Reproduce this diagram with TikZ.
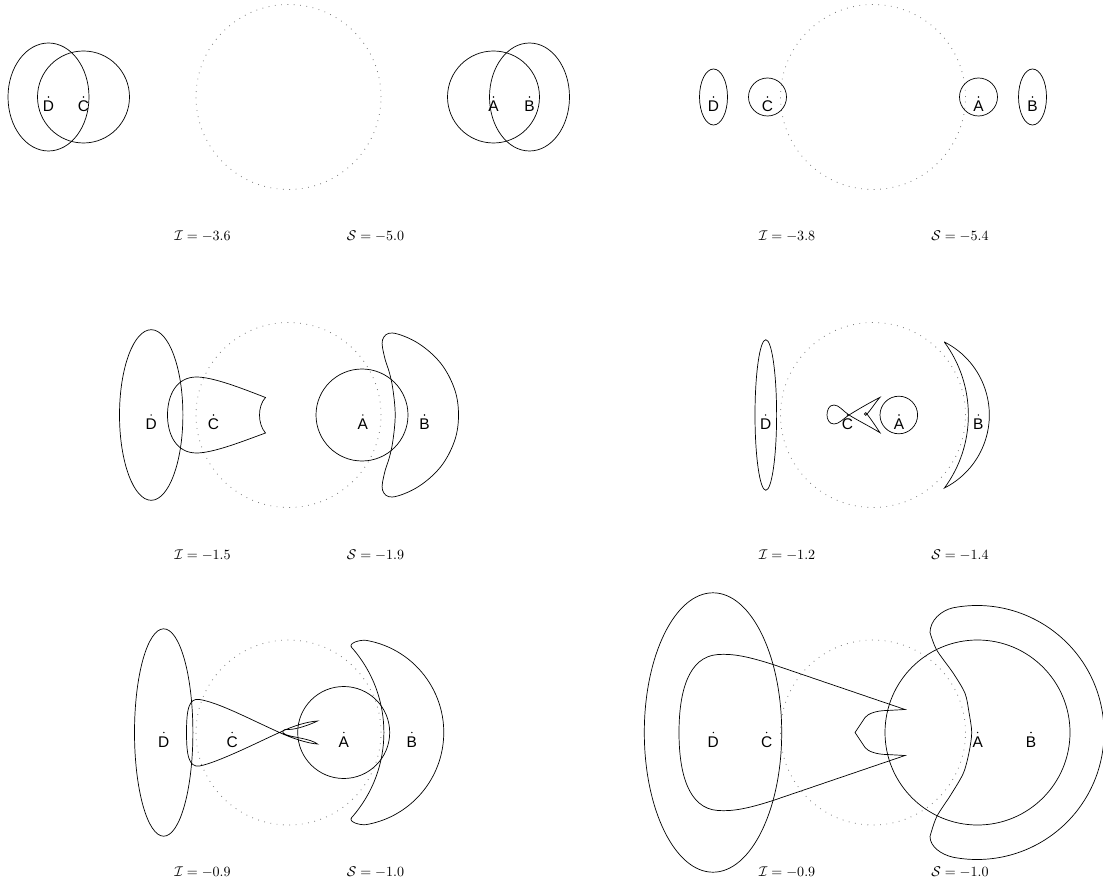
\documentclass[tikz,border=0pt]{standalone}
\usepackage{fontspec}
\setsansfont{Liberation Sans}
\usetikzlibrary{positioning}

\begin{document}
\begin{tikzpicture}[
    x=0.025cm, y=0.025cm,
    every node/.style={font=\rmfamily\small},
    % 虚线球面
    sphere/.style={gray, line width=0.6pt, dash pattern=on 0.6pt off 3.9pt},
    % 实线曲线
    curve/.style={black, line width=0.5pt},
    % 点
    dot/.style={circle, fill=black, inner sep=0pt, minimum size=1.1pt},
    % 点名
    pt/.style={font=\sffamily\fontsize{11}{13}\selectfont, inner sep=0pt},
    % 数值标注
    val/.style={anchor=base, inner sep=0pt, font=\rmfamily\fontsize{10}{12}\selectfont},
]

\useasboundingbox (0,0) rectangle (1103,884);

%% ── 版面参数 ─────────────────────────────────────────
\def\lx{288.5}  % 左列中心 x
\def\rx{873}    % 右列中心 x
\def\ya{787}    % 第一行中心 y
\def\yb{469}    % 第二行中心 y
\def\yc{151.5}  % 第三行中心 y
\def\rs{92.5}   % 球面半径
\def\ly{-144}   % 数值标注基线

%% ── 第一幅（左上）───────────────────────────────────
\begin{scope}[shift={(\lx,\ya)}]
\draw[sphere] (0,0) circle[radius=\rs];
\draw[curve] (-240,0) ellipse[x radius=40.5, y radius=54];
\draw[curve] (-205,0) circle[radius=46];
\draw[curve] (205,0) circle[radius=46];
\draw[curve] (241,0) ellipse[x radius=40, y radius=54];
\foreach \n/\px in {D/-240, C/-205, A/205, B/241}{
    \node[dot] (d\n1) at (\px,0) {};
    \node[pt, below=2pt of d\n1] (\n1) {\n};
}
\node[val] (I1) at (-86,\ly) {$\mathcal{I}=-3.6$};
\node[val] (S1) at (87,\ly) {$\mathcal{S}=-5.0$};
\end{scope}

%% ── 第二幅（右上）───────────────────────────────────
\begin{scope}[shift={(\rx,\ya)}]
\draw[sphere] (0,0) circle[radius=\rs];
\draw[curve] (-159.5,0) ellipse[x radius=14, y radius=28];
\draw[curve] (-105.5,0) circle[radius=19];
\draw[curve] (105.5,0) circle[radius=19];
\draw[curve] (159.5,0) ellipse[x radius=14, y radius=28];
\foreach \n/\px in {D/-159.5, C/-105.5, A/105.5, B/159.5}{
    \node[dot] (d\n2) at (\px,0) {};
    \node[pt, below=2pt of d\n2] (\n2) {\n};
}
\node[val] (I2) at (-86,\ly) {$\mathcal{I}=-3.8$};
\node[val] (S2) at (87,\ly) {$\mathcal{S}=-5.4$};
\end{scope}

%% ── 第三幅（左中）───────────────────────────────────
\begin{scope}[shift={(\lx,\yb)}]
\draw[sphere] (0,0) circle[radius=\rs];
\draw[curve] (-137.3,0) ellipse[x radius=31.7, y radius=85.3];
\draw[curve] (73.5,0) circle[radius=46];
% C：泪滴形，右端内凹
\draw[curve] (-23,17.5) .. controls (-31,9) and (-31,-9) .. (-23,-18)
    .. controls (-45,-26) and (-75,-38) .. (-92,-38)
    .. controls (-112,-38) and (-121,-20) .. (-121,0)
    .. controls (-121,20) and (-112,38) .. (-92,38)
    .. controls (-75,38) and (-45,26) .. cycle;
% B：月牙形
\draw[curve] plot[smooth cycle, tension=0.6] coordinates {
    (104,82) (129.3,72) (152,52) (166,26) (170,0) (166,-26) (152,-52)
    (129.3,-72) (104,-82) (94,-75) (96,-58) (101,-42) (104.5,-25)
    (106.7,0) (104.5,25) (101,42) (96,58) (94,75)};
\foreach \n/\px in {D/-137.3, C/-75, A/74.3, B/136}{
    \node[dot] (d\n3) at (\px,0) {};
    \node[pt, below=2pt of d\n3] (\n3) {\n};
}
\node[val] (I3) at (-86,\ly) {$\mathcal{I}=-1.5$};
\node[val] (S3) at (87,\ly) {$\mathcal{S}=-1.9$};
\end{scope}

%% ── 第四幅（右中）───────────────────────────────────
\begin{scope}[shift={(\rx,\yb)}]
\draw[sphere] (0,0) circle[radius=\rs];
\draw[curve] (-107.2,0) ellipse[x radius=10.8, y radius=75.3];
\draw[curve] (25.8,0) circle[radius=18.8];
% C：自交的鱼形
\draw[curve] (7,17.7) .. controls (-4,12) and (-16,5) .. (-24,0)
    .. controls (-30,-4) and (-34,-9) .. (-39,-9)
    .. controls (-44,-9) and (-46,-4) .. (-46,0)
    .. controls (-46,5) and (-44,10) .. (-39,10)
    .. controls (-34,10) and (-30,4) .. (-24,0)
    .. controls (-16,-5) and (-4,-11) .. (7,-17.7)
    .. controls (2,-10) and (-3,-3) .. (-6,1)
    .. controls (-3,4) and (2,12) .. cycle
    (-7.3,1) circle[radius=1.3];
% B：两段圆弧围成的月牙
\draw[curve] (71.4,73) arc[start angle=63.2, end angle=-63.2, radius=81.8]
    arc[start angle=-36.4, end angle=36.4, radius=122.9] -- cycle;
\foreach \n/\px in {D/-107.3, C/-25.5, A/26, B/105.3}{
    \node[dot] (d\n4) at (\px,0) {};
    \node[pt, below=2pt of d\n4] (\n4) {\n};
}
\node[val] (I4) at (-86,\ly) {$\mathcal{I}=-1.2$};
\node[val] (S4) at (87,\ly) {$\mathcal{S}=-1.4$};
\end{scope}

%% ── 第五幅（左下）───────────────────────────────────
\begin{scope}[shift={(\lx,\yc)}]
\draw[sphere] (0,0) circle[radius=\rs];
\draw[curve] (-124.8,0) ellipse[x radius=29.2, y radius=103.7];
\draw[curve] (55.2,0) circle[radius=46];
% C：左侧圆头，右侧两片细叶
\draw[curve] (-89,33)
    .. controls (-70,30) and (-40,14) .. (-9,0)
    .. controls (4,-6) and (20,-11) .. (29,-11.5)
    .. controls (22,-6) and (4,-5) .. (-3,-2)
    .. controls (-8,0) and (-6,4) .. (0,3)
    .. controls (8,3) and (22,8) .. (29,11.5)
    .. controls (20,11) and (5,7) .. (-9,0)
    .. controls (-23,-6) and (-70,-30) .. (-89,-33.5)
    .. controls (-100,-35) and (-102,-22) .. (-102,0)
    .. controls (-102,22) and (-100,35) .. cycle;
% B：外弧 + 内弧，两端圆头
\draw[curve] (78,92.1) arc[start angle=80, end angle=-80, radius=93.5]
    .. controls (72.1,-93.1) and (59.2,-89.5) .. (63.2,-85)
    arc[start angle=-41.5, end angle=41.5, radius=128.3]
    .. controls (59.2,89.5) and (72.1,93.1) .. cycle;
\foreach \n/\px in {D/-124.7, C/-56.3, A/55.3, B/123.3}{
    \node[dot] (d\n5) at (\px,0) {};
    \node[pt, below=2pt of d\n5] (\n5) {\n};
}
\node[val] (I5) at (-86,\ly) {$\mathcal{I}=-0.9$};
\node[val] (S5) at (87,\ly) {$\mathcal{S}=-1.0$};
\end{scope}

%% ── 第六幅（右下）───────────────────────────────────
\begin{scope}[shift={(\rx,\yc)}]
\draw[sphere] (0,0) circle[radius=\rs];
\draw[curve] (-160,0) ellipse[x radius=68.7, y radius=139.7];
\draw[curve] (104.5,0) circle[radius=\rs];
% C：大圆头加折线凹口
\draw[curve] (32,23) -- (14,22) .. controls (4,22) and (-5,19) .. (-8,15)
    -- (-18,0) -- (-8,-15) .. controls (-5,-19) and (4,-22) .. (14,-22)
    -- (32,-23) -- (-100,-68)
    .. controls (-125,-76) and (-140,-79) .. (-155,-78)
    .. controls (-185,-76) and (-194,-40) .. (-194,0)
    .. controls (-194,40) and (-185,76) .. (-155,78)
    .. controls (-140,79) and (-125,76) .. (-100,68) -- cycle;
% B：大月牙，外圆弧 + 内折曲边
\draw[curve] (80,124.7) arc[start angle=100.9, end angle=-100.9, radius=127]
    .. controls (68,-122) and (57,-114) .. (57,-104)
    -- plot[smooth, tension=0.5] coordinates {
        (57,-104) (63.7,-84.2) (78,-62) (90.3,-40.8) (96,-20) (98.7,0)
        (96,20) (92,39.2) (80.3,59.2) (63.7,82.5) (57,100)}
    .. controls (57,112) and (68,122) .. cycle;
\foreach \n/\px in {D/-159.7, C/-106.3, A/104.7, B/158}{
    \node[dot] (d\n6) at (\px,0) {};
    \node[pt, below=2pt of d\n6] (\n6) {\n};
}
\node[val] (I6) at (-86,\ly) {$\mathcal{I}=-0.9$};
\node[val] (S6) at (87,\ly) {$\mathcal{S}=-1.0$};
\end{scope}

\end{tikzpicture}
\end{document}
